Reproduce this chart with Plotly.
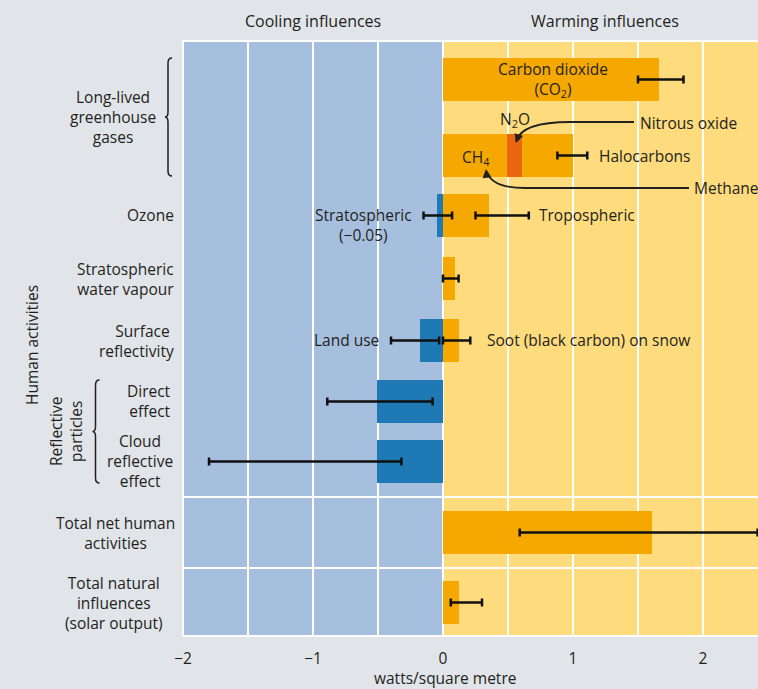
import plotly.graph_objects as go

# ---------------- data ----------------
row_labels = [
    "Long-lived<br>greenhouse<br>gases",
    "Ozone",
    "Stratospheric<br>water vapour",
    "Surface <br>reflectivity",
    "Direct<br>effect",
    "Cloud<br>reflective<br>effect",
    "Total net human<br>activities",
    "Total natural<br>influences<br>(solar output)",
]

bar_names = ["Carbon dioxide", "Methane", "Nitrous oxide", "Halocarbons",
             "Stratospheric ozone", "Tropospheric ozone", "Stratospheric water vapour",
             "Land use", "Soot (black carbon) on snow", "Direct effect",
             "Cloud reflective effect", "Total net human activities",
             "Total natural influences"]
bar_rows = [0, 1, 1, 1, 2, 2, 3, 4, 4, 5, 6, 7, 8]
bar_start = [0, 0, 0.49, 0.61, 0, 0, 0, 0, 0, 0, 0, 0, 0]
bar_values = [1.66, 0.49, 0.12, 0.39, -0.05, 0.35, 0.09, -0.18, 0.12, -0.51, -0.51, 1.61, 0.12]
bar_kind = ["warm", "warm", "n2o", "warm", "cool", "warm", "warm", "cool", "warm",
            "cool", "cool", "warm", "warm"]

err_rows = [0, 1, 2, 2, 3, 4, 4, 5, 6, 7, 8]
err_low = [1.50, 0.88, -0.15, 0.25, 0.00, -0.40, 0.00, -0.89, -1.80, 0.59, 0.06]
err_high = [1.85, 1.11, 0.07, 0.66, 0.12, -0.03, 0.21, -0.08, -0.32, 2.42, 0.30]

x_ticks = [-2, -1, 0, 1, 2]

# ---------------- layout constants (pixels) ----------------
W, H = 758, 689
PL, PR, PT, PB = 183, 758, 41, 636
row_y = [79.5, 155.5, 215.5, 278.5, 340.5, 401.5, 461.5, 532.5, 602.5]
label_row_y = [117, 215.5, 278.5, 340.5, 401.5, 461.5, 532.5, 602.5]
BAR_H = 43
X0, X1 = -2, -2 + (PR - PL) / 130.0

FONT = "Open Sans"
TXT = "#231f20"
PAPER = "#e1e4e9"
BLUE_BG = "#a6bfdf"
YEL_BG = "#fedb7c"
COLORS = {"warm": "#f5a800", "n2o": "#e8670f", "cool": "#1f79b4"}


def px(xp):
    return (xp - PL) / (PR - PL)


def py(yp):
    return (PB - yp) / (PB - PT)


fig = go.Figure()

for name, r, s, v, k in zip(bar_names, bar_rows, bar_start, bar_values, bar_kind):
    fig.add_trace(go.Bar(
        x=[v], y=[row_y[r]], base=[s], orientation="h", width=BAR_H,
        marker=dict(color=COLORS[k], line=dict(width=0)), name=name,
        showlegend=False, hoverinfo="name+x"))

mids = [(a + b) / 2 for a, b in zip(err_low, err_high)]
fig.add_trace(go.Scatter(
    x=mids, y=[row_y[r] for r in err_rows], mode="markers",
    marker=dict(size=0.1, color="rgba(0,0,0,0)"),
    error_x=dict(type="data", symmetric=False,
                 array=[h - m for h, m in zip(err_high, mids)],
                 arrayminus=[m - l for m, l in zip(mids, err_low)],
                 color="#111111", thickness=2.5, width=4),
    showlegend=False, hoverinfo="skip", cliponaxis=False))

shapes = []
shapes.append(dict(type="rect", xref="x", yref="paper", x0=X0, x1=0, y0=0, y1=1,
                   fillcolor=BLUE_BG, line=dict(width=0), layer="below"))
shapes.append(dict(type="rect", xref="x", yref="paper", x0=0, x1=X1, y0=0, y1=1,
                   fillcolor=YEL_BG, line=dict(width=0), layer="below"))
for yy in [PT, 497, 568, PB]:
    shapes.append(dict(type="line", xref="paper", yref="paper", x0=0, x1=1,
                       y0=py(yy), y1=py(yy), line=dict(color="white", width=2),
                       layer="below"))
shapes.append(dict(type="line", xref="paper", yref="paper", x0=0, x1=0, y0=0, y1=1,
                   line=dict(color="white", width=2), layer="below"))


def path_str(points):
    s = ""
    for cmd, ps in points:
        s += cmd + " " + " ".join(f"{px(a):.5f},{py(b):.5f}" for a, b in ps) + " "
    return s


def brace(x, y0, y1, depth=4):
    ym = (y0 + y1) / 2
    pts = [
        ("M", [(x + depth, y0)]),
        ("Q", [(x, y0), (x, y0 + 5)]),
        ("L", [(x, ym - 5)]),
        ("Q", [(x, ym), (x - depth + 1, ym)]),
        ("Q", [(x, ym), (x, ym + 5)]),
        ("L", [(x, y1 - 5)]),
        ("Q", [(x, y1), (x + depth, y1)]),
    ]
    return dict(type="path", xref="paper", yref="paper", path=path_str(pts),
                line=dict(color=TXT, width=1.5))


shapes.append(brace(168, 58, 176))
shapes.append(brace(95.5, 380, 483))


def curve(points):
    return dict(type="path", xref="paper", yref="paper", path=path_str(points),
                line=dict(color=TXT, width=1.8))


shapes.append(curve([("M", [(634, 122)]), ("L", [(570, 122)]),
                     ("Q", [(522, 122), (516, 141)])]))
shapes.append(curve([("M", [(689, 188)]), ("L", [(525, 188)]),
                     ("Q", [(492, 188), (487, 172)])]))

ann = []


def text(t, x, y, xanchor="center", align="center", size=15.5, textangle=0):
    ann.append(dict(text=t, xref="paper", yref="paper", x=px(x), y=py(y),
                    xanchor=xanchor, yanchor="middle", align=align, showarrow=False,
                    textangle=textangle, font=dict(family=FONT, size=size, color=TXT)))


text("Cooling influences", 313, 21, size=16)
text("Warming influences", 605, 21, size=16)
text("watts/square metre", 445, 678)

text(row_labels[0], 113, label_row_y[0])
text(row_labels[1], 176, label_row_y[1], xanchor="right", align="right")
text(row_labels[2], 176, label_row_y[2], xanchor="right", align="right")
text(row_labels[3], 176, label_row_y[3], xanchor="right", align="right")
text(row_labels[4], 173, label_row_y[4] - 1, xanchor="right", align="right")
text(row_labels[5], 175, label_row_y[5], xanchor="right", align="center")
text(row_labels[6], 115, label_row_y[6])
text(row_labels[7], 114, label_row_y[7])

text("Human activities", 32, 345, textangle=-90)
text("Reflective<br>particles", 66, 432, textangle=-90)

text("Carbon dioxide<br>(CO<sub>2</sub>)", 553, 79)
text("N<sub>2</sub>O", 515, 120)
text("Nitrous oxide", 638, 123, xanchor="left")
text("CH<sub>4</sub>", 475, 157)
text("Halocarbons", 597, 156, xanchor="left")
text("Methane", 692, 188, xanchor="left")
text("Stratospheric<br>(−0.05)", 363, 225)
text("Tropospheric", 537, 215, xanchor="left")
text("Land use", 381, 340, xanchor="right")
text("Soot (black carbon) on snow", 485, 340, xanchor="left")

for (x, y, ax, ay) in [(516, 143, 3, -9), (486, 169, 1, 9)]:
    ann.append(dict(x=px(x), y=py(y), xref="paper", yref="paper", ax=ax, ay=ay,
                    axref="pixel", ayref="pixel", showarrow=True, arrowhead=2,
                    arrowsize=1.1, arrowwidth=1.6, arrowcolor=TXT, text=""))

fig.update_layout(
    width=W, height=H,
    margin=dict(l=PL, r=W - PR, t=PT, b=H - PB, pad=0),
    paper_bgcolor=PAPER, plot_bgcolor=YEL_BG,
    barmode="overlay", bargap=0,
    shapes=shapes, annotations=ann,
    font=dict(family=FONT, color=TXT, size=15.5),
    xaxis=dict(range=[X0, X1], tickvals=[-2, -1.5, -1, -0.5, 0, 0.5, 1, 1.5, 2],
               ticktext=["−2", "", "−1", "", "0", "", "1", "", "2"],
               showgrid=True, gridcolor="white", gridwidth=2, zeroline=False,
               showline=False, ticks="outside", ticklen=8, tickcolor="rgba(0,0,0,0)",
               tickfont=dict(family=FONT, size=15.5, color=TXT), fixedrange=True),
    yaxis=dict(range=[PB, PT], showgrid=False, zeroline=False, showticklabels=False,
               showline=False, fixedrange=True),
    showlegend=False,
)

fig.write_html("out.html", config={"displayModeBar": False},
               post_script="document.body.style.margin='0px';document.body.style.overflow='hidden';")
